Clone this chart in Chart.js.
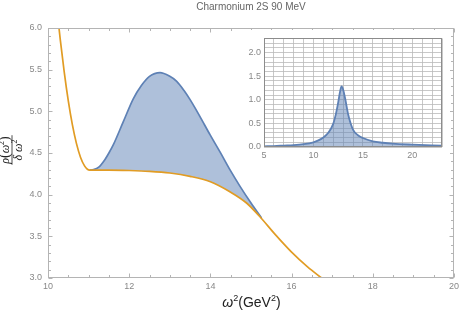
<!DOCTYPE html>
<html><head><meta charset="utf-8">
<script src="https://cdn.jsdelivr.net/npm/chart.js@4/dist/chart.umd.min.js"></script>
<style>
html,body{margin:0;padding:0;background:#fff;}
#wrap{position:relative;width:471px;height:311px;overflow:hidden;}
#main{position:absolute;left:0;top:0;}
#inset{position:absolute;left:236px;top:30px;background:#fff;}
</style></head><body>
<div id="wrap"><canvas id="main" width="471" height="311"></canvas><canvas id="inset" width="214" height="135"></canvas></div>
<script>
// ---- data ----
const chartTitle = "Charmonium 2S 90 MeV";
// lower (orange) curve
const lowerX = [10.22, 10.30, 10.40, 10.50, 10.60, 10.70, 10.80, 10.90, 10.97, 11.03, 11.5, 12.0, 12.5, 13.0, 13.5, 14.0, 14.48, 14.89, 15.22, 15.6, 16.0, 16.4, 16.74, 17.0];
const lowerY = [6.23, 5.87, 5.47, 5.125, 4.84, 4.615, 4.45, 4.345, 4.305, 4.295, 4.295, 4.29, 4.28, 4.26, 4.22, 4.155, 4.035, 3.90, 3.735, 3.52, 3.31, 3.13, 3.0, 2.9];
// upper (blue) curve
const upperX = [11.03, 11.12, 11.25, 11.40, 11.50, 11.61, 11.85, 12.10, 12.30, 12.50, 12.76, 13.0, 13.17, 13.35, 13.50, 13.74, 13.99, 14.24, 14.48, 14.73, 15.0, 15.26];
const upperY = [4.295, 4.30, 4.33, 4.42, 4.50, 4.60, 4.87, 5.15, 5.31, 5.42, 5.464, 5.42, 5.36, 5.25, 5.14, 4.94, 4.72, 4.51, 4.30, 4.10, 3.90, 3.72];
// inset spectral function
const insetX = [5, 6, 7, 8, 9, 10, 10.5, 11, 11.5, 12, 12.25, 12.5, 12.7, 12.84, 13.0, 13.25, 13.5, 14, 14.5, 15, 16, 17, 18, 20, 23];
const insetY = [0.015, 0.02, 0.03, 0.04, 0.06, 0.10, 0.14, 0.20, 0.30, 0.49, 0.68, 0.94, 1.18, 1.285, 1.22, 0.98, 0.70, 0.37, 0.25, 0.19, 0.12, 0.09, 0.07, 0.05, 0.03];
// tick labels
const mainXLabels = [10, 12, 14, 16, 18, 20];
const mainYLabels = [3.0, 3.5, 4.0, 4.5, 5.0, 5.5, 6.0];
const insetXLabels = [5, 10, 15, 20];
const insetYLabels = [0.0, 0.5, 1.0, 1.5, 2.0];

const BLUE = '#5e81b5', ORANGE = '#e19c24', FILL = 'rgba(94,129,181,0.5)';
const near = (v, arr) => arr.some(a => Math.abs(a - v) < 1e-6);
const pts = (xs, ys) => xs.map((x, i) => ({x, y: ys[i]}));

const mainPlugin = {
  id: 'mainDeco',
  afterDatasetsDraw(chart) {
    const {ctx, chartArea: a, scales: {x, y}} = chart;
    ctx.save();
    ctx.strokeStyle = '#b4b4b4'; ctx.lineWidth = 1;
    const L = Math.round(a.left) + 0.5, R = Math.round(a.right) - 0.5, T = Math.round(a.top) + 0.5, B = Math.round(a.bottom) - 0.5;
    ctx.strokeRect(L, T, R - L, B - T);
    ctx.beginPath();
    x.ticks.forEach(t => {
      const p = Math.round(x.getPixelForValue(t.value)) + 0.5;
      const len = t.label ? 4 : 2.5;
      ctx.moveTo(p, B); ctx.lineTo(p, B - len);
      ctx.moveTo(p, T); ctx.lineTo(p, T + len);
    });
    y.ticks.forEach(t => {
      const p = Math.round(y.getPixelForValue(t.value)) + 0.5;
      const len = t.label ? 4 : 2.5;
      ctx.moveTo(L, p); ctx.lineTo(L + len, p);
      ctx.moveTo(R, p); ctx.lineTo(R - len, p);
    });
    ctx.stroke();
    ctx.restore();
  },
  afterDraw(chart) {
    const ctx = chart.ctx;
    ctx.save();
    // title
    ctx.fillStyle = '#666'; ctx.font = '10px "Liberation Sans"';
    ctx.textAlign = 'center'; ctx.textBaseline = 'middle';
    ctx.fillText(chartTitle, 251, 7);
    // x-axis title  ω²(GeV²)
    ctx.textAlign = 'left'; ctx.textBaseline = 'alphabetic'; ctx.fillStyle = '#222';
    const drawRich = (parts, cx, by) => {
      let w = 0;
      parts.forEach(p => { ctx.font = p.f; p.w = ctx.measureText(p.t).width; w += p.w; });
      let xx = cx - w / 2;
      parts.forEach(p => { ctx.font = p.f; ctx.fillText(p.t, xx, by + (p.dy || 0)); xx += p.w; });
      return w;
    };
    drawRich([
      {t: 'ω', f: 'italic 14px "Liberation Sans"'},
      {t: '2', f: '9px "Liberation Sans"', dy: -6},
      {t: '(GeV', f: '14px "Liberation Sans"'},
      {t: '2', f: '9px "Liberation Sans"', dy: -6},
      {t: ')', f: '14px "Liberation Sans"'}
    ], 251.5, 307);
    // y-axis label: fraction rho(omega^2) / delta omega^2
    ctx.translate(12, 150);
    ctx.rotate(-Math.PI / 2);
    ctx.fillStyle = '#222';
    const wNum = drawRich([
      {t: 'ρ', f: 'italic 12px "Liberation Serif"'},
      {t: '(', f: '14px "Liberation Serif"'},
      {t: 'ω', f: 'italic 12px "Liberation Serif"'},
      {t: '2', f: '8px "Liberation Serif"', dy: -5},
      {t: ')', f: '14px "Liberation Serif"'}
    ], 0, -3.5);
    drawRich([
      {t: 'δ ', f: 'italic 12px "Liberation Serif"'},
      {t: 'ω', f: 'italic 12px "Liberation Serif"'},
      {t: '2', f: '8px "Liberation Serif"', dy: -5}
    ], 0, 10);
    ctx.strokeStyle = '#222'; ctx.lineWidth = 0.8;
    ctx.beginPath(); ctx.moveTo(-wNum / 2 - 1, 0); ctx.lineTo(wNum / 2 + 1, 0); ctx.stroke();
    ctx.restore();
  }
};

new Chart(document.getElementById('main'), {
  type: 'line',
  data: {
    datasets: [
      {label: 'lower', data: pts(lowerX, lowerY), borderColor: ORANGE, borderWidth: 1.7,
       pointRadius: 0, cubicInterpolationMode: 'monotone', fill: false},
      {label: 'upper', data: pts(upperX, upperY), borderColor: BLUE, borderWidth: 1.7,
       pointRadius: 0, cubicInterpolationMode: 'monotone', fill: {target: 0}, backgroundColor: FILL}
    ]
  },
  options: {
    responsive: false, animation: false, events: [],
    layout: {padding: {left: 0, right: 17, top: 28, bottom: 0}},
    plugins: {legend: {display: false}, tooltip: {enabled: false}, title: {display: false}},
    scales: {
      x: {type: 'linear', min: 10, max: 20,
          afterFit: s => { s.height = 33; },
          grid: {display: false, drawTicks: false}, border: {display: false},
          ticks: {stepSize: 0.5, autoSkip: false, maxRotation: 0, padding: 3, color: '#888',
                  font: {size: 9, family: 'Liberation Sans'},
                  callback: v => near(v, mainXLabels) ? String(Math.round(v)) : ''}},
      y: {type: 'linear', min: 3, max: 6,
          afterFit: s => { s.width = 48; },
          grid: {display: false, drawTicks: false}, border: {display: false},
          ticks: {stepSize: 0.1, autoSkip: false, padding: 6, color: '#888',
                  font: {size: 9, family: 'Liberation Sans'},
                  callback: v => near(v, mainYLabels) ? v.toFixed(1) : ''}}
    }
  },
  plugins: [mainPlugin]
});

const insetPlugin = {
  id: 'insetFrame',
  afterDatasetsDraw(chart) {
    const {ctx, chartArea: a} = chart;
    ctx.save();
    ctx.strokeStyle = '#8c8c8c'; ctx.lineWidth = 1;
    const L = Math.round(a.left) + 0.5, R = Math.round(a.right) - 0.5, T = Math.round(a.top) + 0.5, B = Math.round(a.bottom) - 0.5;
    ctx.strokeRect(L, T, R - L, B - T);
    ctx.restore();
  }
};

new Chart(document.getElementById('inset'), {
  type: 'line',
  data: {
    datasets: [
      {label: 'spectral', data: pts(insetX, insetY), borderColor: BLUE, borderWidth: 1.8,
       pointRadius: 0, cubicInterpolationMode: 'monotone', fill: 'origin', backgroundColor: FILL}
    ]
  },
  options: {
    responsive: false, animation: false, events: [],
    layout: {padding: {left: 0, right: 8, top: 6, bottom: 0}},
    plugins: {legend: {display: false}, tooltip: {enabled: false}},
    scales: {
      x: {type: 'linear', min: 5, max: 23,
          afterFit: s => { s.height = 18; },
          grid: {color: '#bababa', lineWidth: 0.8, drawTicks: false}, border: {display: false},
          ticks: {stepSize: 1, autoSkip: false, maxRotation: 0, padding: 3, color: '#888',
                  font: {size: 9, family: 'Liberation Sans'},
                  callback: v => near(v, insetXLabels) ? String(Math.round(v)) : ''}},
      y: {type: 'linear', min: 0, max: 2.3,
          afterFit: s => { s.width = 28; },
          grid: {color: '#bababa', lineWidth: 0.8, drawTicks: false}, border: {display: false},
          ticks: {stepSize: 0.1, autoSkip: false, padding: 3, color: '#888',
                  font: {size: 9, family: 'Liberation Sans'},
                  callback: v => near(v, insetYLabels) ? v.toFixed(1) : ''}}
    }
  },
  plugins: [insetPlugin]
});
</script>
</body></html>
